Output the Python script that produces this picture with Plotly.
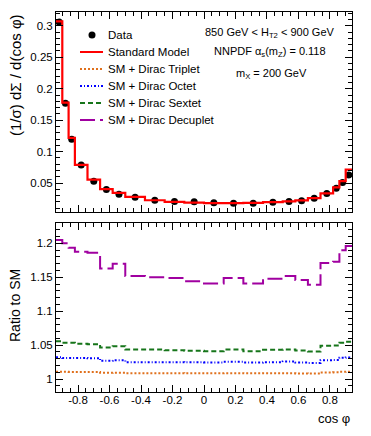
import plotly.graph_objects as go

# bin edges in cos(phi)
EDGES = [-0.94, -0.9, -0.86, -0.82, -0.74, -0.66, -0.58, -0.5, -0.375, -0.25, -0.125, 0.0,
         0.125, 0.25, 0.375, 0.5, 0.58, 0.66, 0.74, 0.82, 0.86, 0.9, 0.94]

DATA = [0.306, 0.177, 0.1196, 0.0788, 0.0529, 0.0397, 0.0323, 0.0275, 0.0227, 0.0206, 0.0201,
        0.0185, 0.018, 0.018, 0.0195, 0.0206, 0.0217, 0.0259, 0.0333, 0.0417, 0.0508, 0.063]
SM = [0.307, 0.178, 0.122, 0.079, 0.0556, 0.0405, 0.0344, 0.028, 0.0227, 0.0201, 0.019,
      0.0182, 0.0182, 0.0186, 0.0198, 0.021, 0.0225, 0.026, 0.0335, 0.043, 0.053, 0.0714]

RATIO_TRIPLET = [1.0108, 1.0107, 1.0106, 1.0105, 1.0104, 1.0093, 1.0094, 1.0087, 1.0086, 1.0086, 1.0085,
                 1.0085, 1.0086, 1.0085, 1.0086, 1.0086, 1.0084, 1.0082, 1.0099, 1.0101, 1.0107, 1.011]
RATIO_OCTET = [1.0323, 1.031, 1.031, 1.031, 1.0308, 1.0269, 1.0279, 1.025, 1.025, 1.0249, 1.0247,
               1.0245, 1.0254, 1.0245, 1.0248, 1.026, 1.0245, 1.0239, 1.0279, 1.0282, 1.0313, 1.032]
RATIO_SEXTET = [1.0559, 1.0537, 1.0535, 1.052, 1.0515, 1.0466, 1.0485, 1.0437, 1.0437, 1.0426, 1.0416,
                1.041, 1.0437, 1.041, 1.0432, 1.0437, 1.042, 1.0407, 1.049, 1.0495, 1.0534, 1.0549]
RATIO_DECUPLET = [1.205, 1.2, 1.1935, 1.1876, 1.186, 1.163, 1.170, 1.152, 1.150, 1.149, 1.144,
                  1.141, 1.149, 1.141, 1.148, 1.152, 1.146, 1.139, 1.171, 1.173, 1.190, 1.196]

X_TICKS = [-0.8, -0.6, -0.4, -0.2, 0, 0.2, 0.4, 0.6, 0.8]
X_TICK_LABELS = ["-0.8", "-0.6", "-0.4", "-0.2", "0", "0.2", "0.4", "0.6", "0.8"]

FONT = "Liberation Sans, Arial, sans-serif"

# plot area in pixels (used to place the hand-made legend)
W, H = 371, 436
ML, MR, MT, MB = 56, 19, 12, 44
PW, PH = W - ML - MR, H - MT - MB

centers = [(a + b) / 2 for a, b in zip(EDGES[:-1], EDGES[1:])]


def steps(values):
    return values + [values[-1]]


def px_x(px):
    return (px - ML) / PW


def px_y(py):
    return (H - MB - py) / PH


fig = go.Figure()
fig.add_trace(go.Scatter(x=centers, y=DATA, mode="markers", name="Data",
                         marker=dict(color="black", size=7), xaxis="x", yaxis="y"))
fig.add_trace(go.Scatter(x=EDGES, y=steps(SM), mode="lines", line_shape="hv", name="Standard Model",
                         line=dict(color="#ff0000", width=2.2), xaxis="x", yaxis="y"))

ratio_styles = [
    ("SM + Dirac Triplet", RATIO_TRIPLET, "#e0701c", "2px,2px"),
    ("SM + Dirac Octet", RATIO_OCTET, "#0000ff", "2px,2px,1px,2px"),
    ("SM + Dirac Sextet", RATIO_SEXTET, "#16751a", "5px,3px"),
    ("SM + Dirac Decuplet", RATIO_DECUPLET, "#a000a0", "15px,5px"),
]
for name, vals, color, dash in ratio_styles:
    fig.add_trace(go.Scatter(x=EDGES, y=steps(vals), mode="lines", line_shape="hv", name=name,
                             line=dict(color=color, width=2, dash=dash), xaxis="x2", yaxis="y2"))

axis_common = dict(
    showline=True, linecolor="black", linewidth=1, mirror="allticks",
    ticks="inside", ticklen=7, tickcolor="black", showgrid=False, zeroline=False,
    tickfont=dict(size=11.5, color="black", family=FONT),
)

fig.update_layout(
    width=W, height=H,
    paper_bgcolor="white", plot_bgcolor="white",
    margin=dict(l=ML, r=MR, t=MT, b=MB),
    font=dict(family=FONT, size=12, color="black"),
    showlegend=False,
    xaxis=dict(domain=[0, 1], anchor="y", range=[-0.94, 0.94], tickvals=X_TICKS, showticklabels=False,
               minor=dict(ticks="inside", ticklen=4, dtick=0.05, tick0=0, tickcolor="black"), **axis_common),
    yaxis=dict(domain=[0.4737, 1], anchor="x", range=[0.004, 0.322], dtick=0.05, tick0=0,
               minor=dict(ticks="inside", ticklen=4, dtick=0.01, tick0=0, tickcolor="black"), **axis_common),
    xaxis2=dict(domain=[0, 1], anchor="y2", range=[-0.94, 0.94], tickvals=X_TICKS, ticktext=X_TICK_LABELS,
                ticklabelstandoff=-3,
                minor=dict(ticks="inside", ticklen=4, dtick=0.05, tick0=0, tickcolor="black"), **axis_common),
    yaxis2=dict(domain=[0, 0.4447], anchor="x2", range=[0.981, 1.23], dtick=0.05, tick0=0,
                minor=dict(ticks="inside", ticklen=4, dtick=0.01, tick0=0, tickcolor="black"), **axis_common),
)

# legend drawn by hand so the rows sit 17 px apart as in the original
legend_rows = [("Data", None, None), ("Standard Model", "#ff0000", "solid")] + \
              [(n, c, d) for n, _, c, d in ratio_styles]
for i, (name, color, dash) in enumerate(legend_rows):
    ypx = 35 + 17 * i
    if color is None:
        fig.add_shape(type="circle", xref="paper", yref="paper",
                      x0=px_x(88.5), x1=px_x(95.5), y0=px_y(ypx + 3.5), y1=px_y(ypx - 3.5),
                      fillcolor="black", line=dict(color="black", width=0))
    else:
        fig.add_shape(type="line", xref="paper", yref="paper",
                      x0=px_x(80), x1=px_x(103), y0=px_y(ypx), y1=px_y(ypx),
                      line=dict(color=color, width=2, dash=dash))
    fig.add_annotation(text=name, xref="paper", yref="paper", x=px_x(106), y=px_y(ypx),
                       xanchor="left", yanchor="middle", showarrow=False,
                       font=dict(size=11.5, family=FONT, color="black"))

annotations = [
    dict(text="(1/σ) dΣ / d(cos φ)", x=px_x(15), y=1.0, xanchor="center", yanchor="top", textangle=-90, size=15),
    dict(text="Ratio to SM", x=px_x(15), y=px_y(306), xanchor="center", yanchor="middle", textangle=-90, size=14),
    dict(text="cos φ", x=1.0, y=px_y(419), xanchor="right", yanchor="middle", size=13),
    dict(text="850 GeV &lt; H<sub>T2</sub> &lt; 900 GeV", x=px_x(270), y=px_y(33), xanchor="center", yanchor="middle", size=11),
    dict(text="NNPDF α<sub>s</sub>(m<sub>Z</sub>) = 0.118", x=px_x(270), y=px_y(52), xanchor="center", yanchor="middle", size=11),
    dict(text="m<sub>X</sub> = 200 GeV", x=px_x(271), y=px_y(74), xanchor="center", yanchor="middle", size=11),
]
for a in annotations:
    size = a.pop("size")
    fig.add_annotation(xref="paper", yref="paper", showarrow=False,
                       font=dict(size=size, family=FONT, color="black"), **a)

fig.write_html("out.html", config={"displayModeBar": False},
               post_script="document.body.style.margin='0';")
